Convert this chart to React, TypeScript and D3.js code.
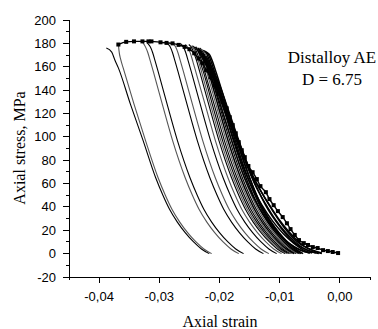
import React from "react";
import * as d3 from "d3";

type P = [number, number];

// Unloading curves [strain, stress MPa]
const curveA: P[] = [[-0.0388,176],[-0.0379,172.5],[-0.0374,166],[-0.0368,159],[-0.0348,128],[-0.0327,97],[-0.0306,65],[-0.0294,50],[-0.0283,38],[-0.027,27],[-0.0257,18],[-0.0243,10],[-0.023,4],[-0.0217,0]];
const curveB: P[] = [[-0.0368,180],[-0.0367,174],[-0.0364,166],[-0.036,159],[-0.0342,128],[-0.0323,97],[-0.0302,65],[-0.029,50],[-0.0279,38],[-0.0266,27],[-0.0253,18],[-0.0239,10],[-0.0226,4],[-0.0213,0]];
const curveC: P[] = [[-0.0328,181],[-0.0323,177],[-0.0319,172],[-0.0315,165],[-0.031,156],[-0.0294,126],[-0.0278,97],[-0.0257,65],[-0.0245,50],[-0.0234,38],[-0.0221,27],[-0.0208,18],[-0.0194,10],[-0.0181,4],[-0.0168,0]];
const curveD: P[] = [[-0.032,180.5],[-0.0315,177],[-0.0311,172],[-0.0307,165],[-0.0302,156],[-0.0286,126],[-0.027,97],[-0.0249,65],[-0.0237,50],[-0.0226,38],[-0.0213,27],[-0.02,18],[-0.0186,10],[-0.0173,4],[-0.016,0]];
const curveE1: P[] = [[-0.0287,180.5],[-0.0282,177],[-0.0278,172],[-0.0274,165],[-0.0269,156],[-0.0253,126],[-0.0237,97],[-0.0216,65],[-0.0204,50],[-0.0193,38],[-0.018,27],[-0.0167,18],[-0.0153,10],[-0.014,4],[-0.0127,0]];
const curveE2: P[] = [[-0.0278,180.5],[-0.0273,177],[-0.0269,172],[-0.0265,165],[-0.026,156],[-0.0244,126],[-0.0228,97],[-0.0207,65],[-0.0195,50],[-0.0184,38],[-0.0171,27],[-0.0158,18],[-0.0144,10],[-0.0131,4],[-0.0118,0]];
const curveE3: P[] = [[-0.0265,180],[-0.026,177],[-0.0256,172],[-0.0252,165],[-0.0247,156],[-0.0231,126],[-0.0215,97],[-0.0194,65],[-0.0182,50],[-0.0171,38],[-0.0158,27],[-0.0145,18],[-0.0131,10],[-0.0118,4],[-0.0105,0]];
const curveE4: P[] = [[-0.0257,179],[-0.0252,176],[-0.0248,171],[-0.0244,164],[-0.0239,155],[-0.0223,126],[-0.0207,97],[-0.0186,65],[-0.0174,50],[-0.0163,38],[-0.015,27],[-0.0137,18],[-0.0123,10],[-0.011,4],[-0.0097,0]];

const bundle1: P[] = [[-0.0251,179],[-0.0246,176],[-0.0242,171],[-0.0238,165],[-0.0233,156],[-0.0217,126],[-0.0201,97],[-0.018,65],[-0.0168,50],[-0.0157,38],[-0.0144,27],[-0.0131,18],[-0.0117,10],[-0.0104,4],[-0.0091,0]];
const bundle2: P[] = [[-0.0248,178],[-0.0243,175.5],[-0.0239,171],[-0.0235,165],[-0.023,156],[-0.0214,126],[-0.0198,97],[-0.0177,65],[-0.0165,50],[-0.0154,38],[-0.0141,27],[-0.0128,18],[-0.0114,10],[-0.0101,4],[-0.0088,0]];
const bundle3: P[] = [[-0.0245,178],[-0.024,175],[-0.0236,170],[-0.0232,164],[-0.0227,156],[-0.0211,126],[-0.0195,97],[-0.0174,65],[-0.0162,50],[-0.0151,38],[-0.0138,27],[-0.0125,18],[-0.0111,10],[-0.0098,4],[-0.0085,0]];
const bundle4: P[] = [[-0.0242,177],[-0.0237,174.5],[-0.0233,170],[-0.0229,164],[-0.0224,155],[-0.0208,126],[-0.0192,97],[-0.0171,65],[-0.0159,50],[-0.0148,38],[-0.0135,27],[-0.0122,18],[-0.0108,10],[-0.0095,4],[-0.0082,0]];
const bundle5: P[] = [[-0.0239,177],[-0.0234,174],[-0.023,169],[-0.0226,163],[-0.0221,155],[-0.0205,126],[-0.0189,97],[-0.0168,65],[-0.0156,50],[-0.0145,38],[-0.0132,27],[-0.0119,18],[-0.0105,10],[-0.0092,4],[-0.0079,0]];
const bundle6: P[] = [[-0.0236,176],[-0.0231,173.5],[-0.0227,169],[-0.0223,163],[-0.0218,155],[-0.0202,126],[-0.0186,97],[-0.0165,65],[-0.0153,50],[-0.0142,38],[-0.0129,27],[-0.0116,18],[-0.0102,10],[-0.0089,4],[-0.0076,0]];
const bundle7: P[] = [[-0.0233,176],[-0.0228,173],[-0.0224,168],[-0.022,162],[-0.0215,154],[-0.0199,125],[-0.0183,97],[-0.0162,65],[-0.015,50],[-0.0139,38],[-0.0126,27],[-0.0113,18],[-0.0099,10],[-0.0086,4],[-0.0073,0]];
const bundle8: P[] = [[-0.023,175],[-0.0225,172.5],[-0.0221,168],[-0.0217,162],[-0.0212,154],[-0.0196,125],[-0.018,97],[-0.0159,65],[-0.0147,50],[-0.0136,38],[-0.0123,27],[-0.011,18],[-0.0096,10],[-0.0083,4],[-0.007,0]];
const bundle9: P[] = [[-0.0227,174],[-0.0222,172],[-0.0218,167],[-0.0214,161],[-0.0209,153],[-0.0193,125],[-0.0177,97],[-0.0156,65],[-0.0144,50],[-0.0133,38],[-0.012,27],[-0.0107,18],[-0.0093,10],[-0.008,4],[-0.0067,0]];
const bundle10: P[] = [[-0.0224,173],[-0.0219,171],[-0.0215,166],[-0.0211,160],[-0.0206,152],[-0.019,124],[-0.0174,97],[-0.0153,65],[-0.0141,50],[-0.013,38],[-0.0117,27],[-0.0104,18],[-0.009,10],[-0.0077,4],[-0.0064,0]];
const bundle11: P[] = [[-0.0221,172],[-0.0216,170],[-0.0212,165],[-0.0208,159],[-0.0203,151],[-0.0187,124],[-0.0171,97],[-0.015,65],[-0.0138,50],[-0.0127,38],[-0.0114,27],[-0.0101,18],[-0.0087,10],[-0.0074,4],[-0.0061,0]];
const bundleR1: P[] = [[-0.0232,174],[-0.0222,164],[-0.0212,152],[-0.0195,127],[-0.0172,97],[-0.0155,72],[-0.0132,42],[-0.0108,22],[-0.0085,9],[-0.0065,3],[-0.005,0.5]];
const bundleR2: P[] = [[-0.0228,172],[-0.0218,162],[-0.0208,150],[-0.0191,125],[-0.017,97],[-0.0151,72],[-0.0124,42],[-0.0098,22],[-0.0075,9],[-0.0055,3],[-0.004,0.5]];
const bundleR3: P[] = [[-0.0226,168],[-0.0216,158],[-0.0205,146],[-0.0188,122],[-0.0169,97],[-0.015,72],[-0.0118,42],[-0.0092,22],[-0.0068,9],[-0.0045,3],[-0.003,0.5]];
const bundleR4: P[] = [[-0.0226,171],[-0.0214,158],[-0.0202,144],[-0.0187,122],[-0.0169,97],[-0.0155,76],[-0.0141,59],[-0.0124,43],[-0.0107,29],[-0.009,18],[-0.0074,10],[-0.0058,4],[-0.0042,1],[-0.0035,0]];
const bundleR5: P[] = [[-0.0222,169],[-0.021,156],[-0.0199,143],[-0.0184,121],[-0.0168,97],[-0.0153,76],[-0.0138,60],[-0.012,44],[-0.0102,30],[-0.0085,19],[-0.0068,10],[-0.0052,4],[-0.0036,1],[-0.003,0]];
const bundleR6: P[] = [[-0.0235,175],[-0.0222,163],[-0.021,150],[-0.0194,126],[-0.0176,97],[-0.0162,76],[-0.0148,59],[-0.013,42],[-0.0112,28],[-0.0094,17],[-0.0077,9],[-0.006,3],[-0.0046,0.5]];
const bundleR7: P[] = [[-0.024,177],[-0.0227,166],[-0.0215,153],[-0.0199,128],[-0.018,97],[-0.0166,75],[-0.0152,57],[-0.0135,40],[-0.0117,26],[-0.0099,15],[-0.0082,8],[-0.0066,3],[-0.005,0.5]];

// envelope curve with square markers
const envelope: P[] = [[-0.0368,179],[-0.0355,181.3],[-0.0342,181.7],[-0.0328,181.7],[-0.0318,181.7],[-0.0313,181.7],[-0.0298,180.9],[-0.0288,180.4],[-0.0278,180],[-0.0268,178.7],[-0.0258,177],[-0.025,175],[-0.0242,171.5],[-0.0235,167],[-0.0228,163],[-0.0222,157],[-0.0215,151],[-0.0208,144],[-0.0202,137],[-0.0195,130],[-0.0188,124.4],[-0.0183,116.8],[-0.0178,110],[-0.0173,103],[-0.0168,95.4],[-0.0163,88.5],[-0.0158,82.6],[-0.0152,75],[-0.0145,69.7],[-0.0138,63.8],[-0.0132,57.8],[-0.0123,52.6],[-0.0117,46.7],[-0.011,41.5],[-0.0103,36.4],[-0.0095,31.3],[-0.0088,26],[-0.0082,21],[-0.0075,16],[-0.0068,11.6],[-0.006,9],[-0.0053,7.4],[-0.0045,5.6],[-0.0037,4.8],[-0.0028,3],[-0.002,2.2],[-0.0012,1.4],[-0.0003,0.5]];

const curves: { pts: P[]; gray?: boolean; bold?: boolean }[] = [
  { pts: curveA }, { pts: curveB, gray: true }, { pts: curveC, gray: true }, { pts: curveD },
  { pts: curveE1 }, { pts: curveE2, gray: true }, { pts: curveE3 }, { pts: curveE4, gray: true },
  { pts: bundle1 }, { pts: bundle2, gray: true }, { pts: bundle3 }, { pts: bundle4 }, { pts: bundle5, gray: true },
  { pts: bundle6, bold: true }, { pts: bundle7 }, { pts: bundle8, gray: true }, { pts: bundle9, bold: true }, { pts: bundle10, bold: true },
  { pts: bundle11, bold: true },
  { pts: bundleR1, bold: true }, { pts: bundleR2, bold: true }, { pts: bundleR3, bold: true }, { pts: bundleR4, bold: true }, { pts: bundleR5, bold: true },
  { pts: bundleR6, bold: true }, { pts: bundleR7, bold: true },
];

const xTicks = [-0.04, -0.03, -0.02, -0.01, 0.0];
const xMinor = [-0.045, -0.035, -0.025, -0.015, -0.005, 0.005];
const yTicks = [-20, 0, 20, 40, 60, 80, 100, 120, 140, 160, 180, 200];
const yMinor = [-10, 10, 30, 50, 70, 90, 110, 130, 150, 170, 190];

export default function App() {
  const W = 378, H = 329;
  const x = d3.scaleLinear().domain([-0.045, 0.005]).range([69, 370]);
  const y = d3.scaleLinear().domain([-20, 200]).range([277, 20]);
  const line = d3.line<P>().x(d => x(d[0])).y(d => y(d[1])).curve(d3.curveMonotoneX);
  const tickFont = "'Liberation Sans', Arial, sans-serif";
  const serif = "'Liberation Serif', 'Times New Roman', serif";
  return (
    <svg width={W} height={H} style={{ position: "absolute", left: 0, top: 0, background: "#fff" }}>
      <rect width={W} height={H} fill="#fff" />
      <g fill="none">
        {curves.map((c, i) => (
          <path key={i} d={line(c.pts) || ""} stroke={c.gray ? "#555" : "#000"} strokeWidth={c.bold ? 1.5 : 1.1} />
        ))}
        <path d={line(envelope) || ""} stroke="#000" strokeWidth={1.4} />
      </g>
      <g fill="#000">
        {envelope.map((p, i) => (
          <rect key={i} x={x(p[0]) - 2} y={y(p[1]) - 2} width={4} height={4} />
        ))}
      </g>
      <g stroke="#000" strokeWidth={1} shapeRendering="crispEdges">
        <line x1={69} x2={69} y1={y(200)} y2={277} />
        <line x1={69} x2={370} y1={277} y2={277} />
        {xTicks.map(t => <line key={"xt" + t} x1={x(t)} x2={x(t)} y1={277} y2={283} />)}
        {xMinor.map(t => <line key={"xm" + t} x1={x(t)} x2={x(t)} y1={277} y2={280} />)}
        {yTicks.map(t => <line key={"yt" + t} x1={63} x2={69} y1={y(t)} y2={y(t)} />)}
        {yMinor.map(t => <line key={"ym" + t} x1={66} x2={69} y1={y(t)} y2={y(t)} />)}
      </g>
      <g fontFamily={tickFont} fontSize={13} fill="#000">
        {xTicks.map(t => (
          <text key={"xl" + t} x={x(t)} y={301} textAnchor="middle">
            {t.toFixed(2).replace(".", ",")}
          </text>
        ))}
        {yTicks.map(t => (
          <text key={"yl" + t} x={56} y={y(t) + 4.5} textAnchor="end">{t}</text>
        ))}
      </g>
      <text x={220} y={327} textAnchor="middle" fontFamily={serif} fontSize={16}>Axial strain</text>
      <text transform={`translate(25,148) rotate(-90)`} textAnchor="middle" fontFamily={serif} fontSize={16}>Axial stress, MPa</text>
      <text x={332} y={63} textAnchor="middle" fontFamily={serif} fontSize={17}>Distalloy AE</text>
      <text x={332} y={85} textAnchor="middle" fontFamily={serif} fontSize={17}>D = 6.75</text>
    </svg>
  );
}
